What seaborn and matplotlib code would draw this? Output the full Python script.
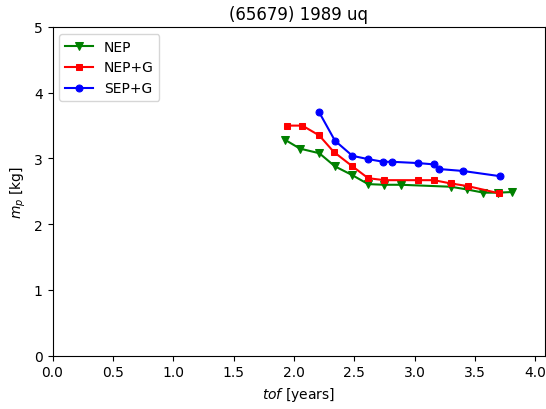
import matplotlib
matplotlib.use("Agg")
import matplotlib.pyplot as plt
import seaborn as sns

# data
nep_tof = [1.93, 2.05, 2.21, 2.34, 2.48, 2.615, 2.75, 2.89, 3.30, 3.43, 3.57, 3.69, 3.81]
nep_mp = [3.28, 3.15, 3.08, 2.88, 2.75, 2.61, 2.60, 2.60, 2.57, 2.53, 2.48, 2.48, 2.49]

nepg_tof = [1.94, 2.07, 2.21, 2.33, 2.485, 2.615, 2.75, 3.03, 3.16, 3.30, 3.44, 3.70]
nepg_mp = [3.50, 3.50, 3.35, 3.10, 2.88, 2.70, 2.67, 2.67, 2.67, 2.62, 2.58, 2.47]

sepg_tof = [2.21, 2.34, 2.485, 2.615, 2.74, 2.81, 3.03, 3.16, 3.20, 3.40, 3.71]
sepg_mp = [3.70, 3.27, 3.04, 2.99, 2.95, 2.95, 2.93, 2.91, 2.84, 2.81, 2.73]

fig = plt.figure(figsize=(5.46, 4.10), dpi=100)
ax = fig.add_axes([52.5 / 546, 53.3 / 410, 492.5 / 546, 328.7 / 410])

sns.lineplot(x=nep_tof, y=nep_mp, ax=ax, color='green', marker='v', markersize=5.5,
             markeredgecolor='green', sort=False, label='NEP')
sns.lineplot(x=nepg_tof, y=nepg_mp, ax=ax, color='red', marker='s', markersize=5,
             markeredgecolor='red', sort=False, label='NEP+G')
sns.lineplot(x=sepg_tof, y=sepg_mp, ax=ax, color='blue', marker='o', markersize=5,
             markeredgecolor='blue', sort=False, label='SEP+G')

ax.set_xlim(0, 4.08)
ax.set_ylim(0, 5)
ax.set_xticks([0, 0.5, 1.0, 1.5, 2.0, 2.5, 3.0, 3.5, 4.0])
ax.set_yticks([0, 1, 2, 3, 4, 5])
ax.set_title('(65679) 1989 uq')
ax.set_xlabel('$tof$ [years]')
ax.set_ylabel('$m_p$ [kg]')
ax.legend(loc='upper left')

fig.savefig('out.png', dpi=100)
